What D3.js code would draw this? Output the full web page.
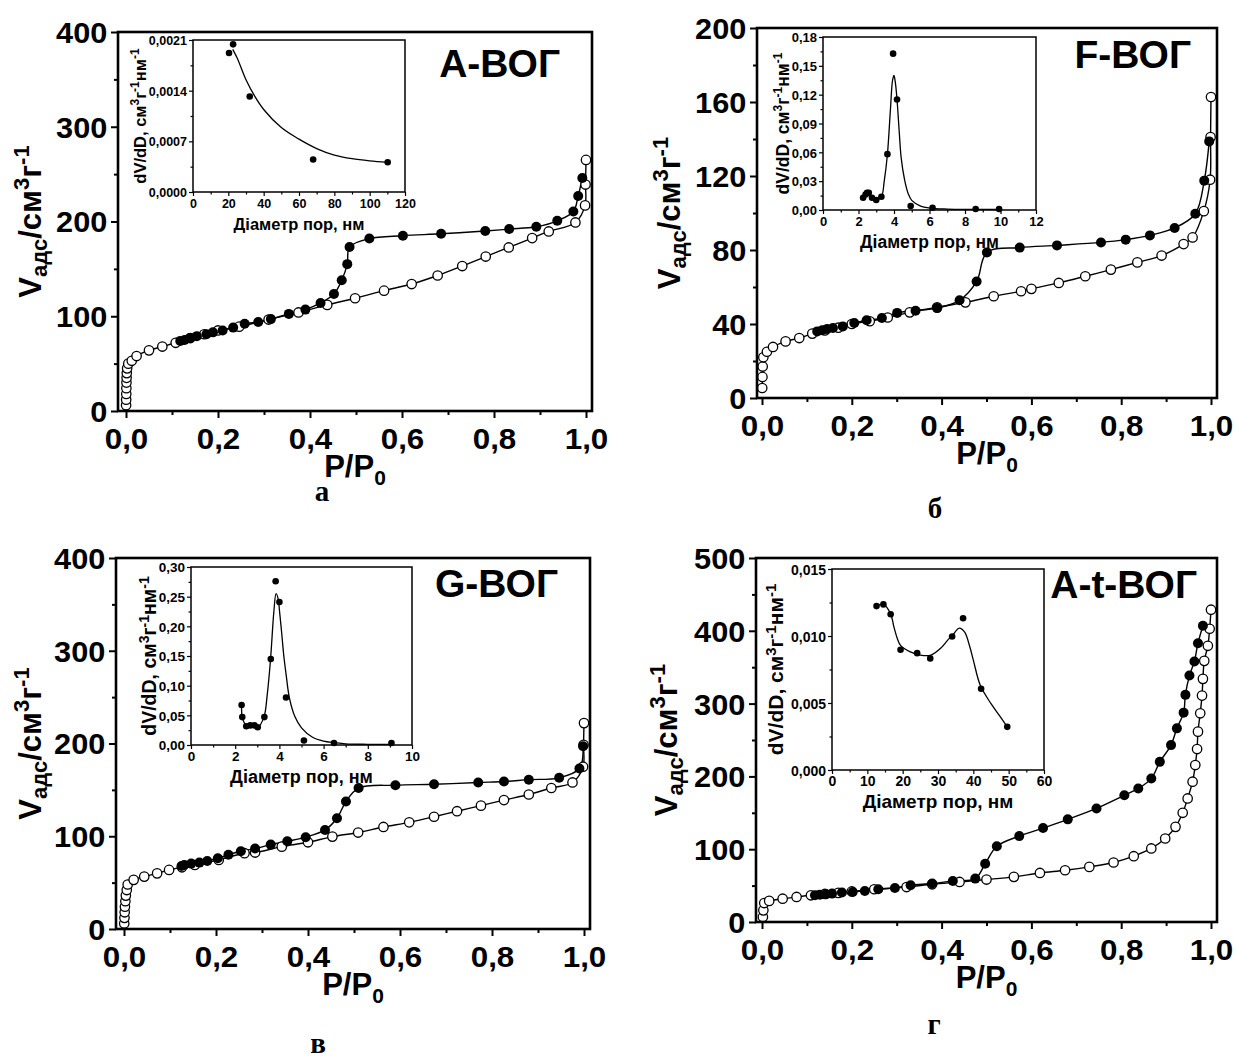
<!DOCTYPE html>
<html>
<head>
<meta charset="utf-8">
<script src="https://cdn.jsdelivr.net/npm/d3@7"></script>
<style>
  body { margin: 0; background: #fff; }
  text { font-family: "Liberation Sans", Arial, sans-serif; font-weight: bold; fill: #000; }
</style>
</head>
<body>
<div id="chart"></div>
<script>
// ---- isotherm data: P/P0 and V (cm3/g) ----
// panel а (A-ВОГ)
const aAdsX = [0.0002,0.0004,0.0006,0.0008,0.001,0.0013,0.0017,0.0025,0.005,0.0125,0.023,0.05,0.079,0.108,0.14,0.17,0.2,0.246,0.31,0.375,0.4375,0.498,0.561,0.621,0.6775,0.731,0.782,0.832,0.883,0.919,0.977,0.998,0.999,1.0];
const aAdsY = [6,12,18,24,30,35,40,45,50,53,58,64,68,72,77,81,85,89,96.5,104,112,119,127,134,143,153,163,172.6,182.5,189.5,199,217,239,265];
const aDesX = [0.992,0.983,0.9725,0.9375,0.892,0.833,0.781,0.685,0.602,0.529,0.486,0.481,0.469,0.452,0.423,0.39,0.354,0.315,0.2875,0.258,0.233,0.21,0.189,0.175,0.154,0.139,0.1275,0.118];
const aDesY = [246,227,210.5,200.7,194.4,192,190,187,185,182,173,155,138,123.5,114,107,102.5,97,94,92,88,85,83,81,79,77,75,74];
// panel б (F-ВОГ)
const bAdsX = [0.0005,0.001,0.0015,0.003,0.011,0.0245,0.0525,0.083,0.112,0.14,0.17,0.2,0.24,0.28,0.329,0.39,0.453,0.516,0.577,0.6,0.661,0.72,0.777,0.836,0.89,0.939,0.959,0.984,0.998,0.999,1.0];
const bAdsY = [5.4,11.4,17,22,25,27.6,30.6,32.4,34.8,36.5,38,40,41.5,43.5,46.3,49,51.7,55,57.7,59,62.2,65.8,69.4,73.3,77,83.2,86.8,101,118,141,162.7];
const bDesX = [0.996,0.985,0.965,0.919,0.864,0.81,0.755,0.657,0.574,0.501,0.478,0.44,0.39,0.342,0.301,0.267,0.233,0.2055,0.18,0.158,0.145,0.134,0.123];
const bDesY = [138.7,117.5,99.6,91.9,87.9,85.6,84.1,82.5,81.3,78.7,63,52.8,48.6,47.2,46,43.2,42,40.5,38.7,37.8,37.3,36.6,36];
// panel в (G-ВОГ)
const cAdsX = [0.0005,0.001,0.0015,0.002,0.003,0.004,0.006,0.008,0.021,0.044,0.072,0.098,0.126,0.154,0.206,0.262,0.285,0.343,0.4,0.453,0.509,0.564,0.62,0.674,0.724,0.776,0.826,0.88,0.929,0.975,0.998,0.999,1.0];
const cAdsY = [6,12,18,24,30,36,42,48,53,56.5,60,63.7,66.5,69,74.5,81.7,82.4,88.8,93.5,99.6,104,110,115,121,127,133,139,145,152,158,175,198.6,222];
const cDesX = [0.998,0.99,0.946,0.88,0.826,0.77,0.674,0.59,0.51,0.4825,0.463,0.437,0.395,0.355,0.319,0.285,0.254,0.227,0.204,0.181,0.164,0.146,0.131,0.125];
const cDesY = [197,173,163,161,159,158,156,155,152,137.4,119.4,106.8,99,94.6,91,86.7,83.8,80,76.3,73.4,71.6,70.5,69,68];
// panel г (A-t-ВОГ)
const dAdsX = [0.002,0.003,0.005,0.016,0.046,0.077,0.109,0.14,0.17,0.2,0.25,0.322,0.379,0.44,0.5,0.561,0.619,0.675,0.729,0.783,0.828,0.867,0.898,0.921,0.937,0.948,0.959,0.965,0.969,0.971,0.976,0.98,0.982,0.985,0.993,0.997,1.0];
const dAdsY = [6.9,16,26,29,32,34.4,36.7,38.5,40,42,45,48,51.8,55,58.3,62,67.4,71.1,75.7,81.7,90.4,101,114.7,130.7,150,169.7,192.7,215.6,237.6,261.5,286.7,311,334,358.7,379.4,402.8,429];
const dDesX = [0.982,0.971,0.963,0.952,0.943,0.939,0.924,0.911,0.886,0.867,0.838,0.807,0.745,0.681,0.626,0.573,0.523,0.497,0.475,0.425,0.379,0.331,0.296,0.259,0.229,0.202,0.178,0.156,0.143,0.129,0.118];
const dDesY = [407,383,357.8,338.5,312,287.6,266,243,220,197,183.5,174,156,141,129,118,104,80,59.6,56.4,52.8,50.5,46.8,45,42.7,41.3,40.4,39,38,37.6,36.7];

// ---- inset data: pore diameter (nm) and dV/dD ----
const aPsdX = [20.4,22.7,32.1,68,110.2];
const aPsdY = [0.00192,0.00204,0.00132,0.00045,0.00041];
const aFitX = [22.5,25,30,35,40,50,60,70,80,90,100,110];
const aFitY = [0.00197,0.00185,0.00155,0.00132,0.00114,0.00089,0.00073,0.0006,0.00051,0.00046,0.00043,0.00041];

const bPsdX = [2.26,2.4,2.48,2.58,2.76,3.0,3.29,3.63,3.95,4.17,4.94,6.17,8.6,9.92];
const bPsdY = [0.0128,0.016,0.018,0.018,0.0128,0.0104,0.0138,0.0581,0.1627,0.1149,0.0042,0.0024,0.001,0.001];
const bFitX = [2.26,2.4,2.55,2.75,3.0,3.29,3.45,3.63,3.8,3.92,4.0,4.08,4.17,4.3,4.4,4.6,4.8,5.0,5.5,6.0,7,8.5,10];
const bFitY = [0.0128,0.017,0.018,0.0128,0.0104,0.0138,0.03,0.058,0.105,0.135,0.14,0.132,0.115,0.08,0.055,0.031,0.017,0.01,0.004,0.002,0.001,0.0007,0.0005];

const cPsdX = [2.29,2.32,2.5,2.68,2.87,3.02,3.32,3.61,3.83,4.0,4.3,5.11,6.47,9.07];
const cPsdY = [0.0675,0.047,0.0316,0.033,0.033,0.03,0.047,0.145,0.276,0.241,0.08,0.0077,0.0033,0.0033];
const cFitX = [2.29,2.32,2.5,2.7,2.9,3.02,3.3,3.45,3.6,3.75,3.85,3.95,4.0,4.1,4.2,4.3,4.45,4.7,5.0,5.5,6.0,6.5,7,8,9];
const cFitY = [0.0675,0.047,0.033,0.033,0.032,0.03,0.047,0.085,0.145,0.225,0.255,0.245,0.228,0.19,0.15,0.12,0.08,0.048,0.029,0.013,0.0066,0.004,0.002,0.0012,0.001];

const dPsdX = [12.6,14.55,16.6,19.4,24.1,27.8,34.0,37.1,42.2,49.6];
const dPsdY = [0.01223,0.01236,0.01162,0.00897,0.00872,0.00833,0.00996,0.01132,0.00606,0.00322];
const dFitX = [12.6,14.5,16.6,17.5,18.5,19.4,22,25,28,31,33,34,36,37.5,39,40,42,45,48,49.6];
const dFitY = [0.01223,0.01236,0.01165,0.0107,0.0098,0.0093,0.00883,0.00858,0.00858,0.00915,0.00977,0.01,0.01058,0.0103,0.0092,0.0082,0.0063,0.00495,0.00384,0.00322];

// tick labels
const mainXTicks = [0, 0.2, 0.4, 0.6, 0.8, 1.0];
const mainXMinor = [0.1, 0.3, 0.5, 0.7, 0.9];

const zip = (xs, ys) => xs.map((v, i) => [v, ys[i]]);
const comma = f => v => d3.format(f)(v).replace(".", ",");

const svg = d3.select("#chart").append("svg")
    .attr("width", 1236)
    .attr("height", 1062);

function panel(c) {
  const g = svg.append("g");
  const x = d3.scaleLinear().domain([0, 1]).range(c.xr);
  const y = d3.scaleLinear().domain([0, c.ymax]).range([c.fb, c.ft]);

  // ticks (outward) on bottom and left
  const xa = g.append("g").attr("transform", `translate(0,${c.fb})`)
    .call(d3.axisBottom(x).tickValues(mainXTicks).tickSize(7).tickSizeOuter(0).tickFormat(comma(".1f")));
  xa.selectAll("text").attr("y", 38).attr("dy", 0).attr("font-size", 29)
    .attr("transform", "scale(1.08,1)");
  g.append("g").attr("transform", `translate(0,${c.fb})`)
    .call(d3.axisBottom(x).tickValues(mainXMinor).tickSize(4).tickSizeOuter(0).tickFormat(""));

  const ya = g.append("g").attr("transform", `translate(${c.fl},0)`)
    .call(d3.axisLeft(y).tickValues(c.yticks).tickSize(7).tickSizeOuter(0).tickPadding(3).tickFormat(d3.format("d")));
  ya.selectAll("text").attr("font-size", 29).attr("dy", "0.36em")
    .attr("transform", "scale(1.06,1)");
  g.append("g").attr("transform", `translate(${c.fl},0)`)
    .call(d3.axisLeft(y).tickValues(c.yminor).tickSize(4).tickSizeOuter(0).tickFormat(""));
  g.selectAll(".domain").remove();
  g.selectAll(".tick line").attr("stroke", "#000").attr("stroke-width", 2);
  g.selectAll(".tick text").attr("fill", "#000");

  // curves
  const line = d3.line().x(d => x(d[0])).y(d => y(d[1])).curve(d3.curveCatmullRom.alpha(0.5));
  const ads = zip(c.ads[0], c.ads[1]);
  const des = zip(c.des[0], c.des[1]);
  g.append("path").datum(ads).attr("d", line).attr("fill", "none").attr("stroke", "#000").attr("stroke-width", 1.4);
  g.append("path").datum(des).attr("d", line).attr("fill", "none").attr("stroke", "#000").attr("stroke-width", 1.4);

  g.append("g").selectAll("circle").data(ads).join("circle")
    .attr("cx", d => x(d[0])).attr("cy", d => y(d[1])).attr("r", 4.7)
    .attr("fill", "#fff").attr("stroke", "#000").attr("stroke-width", 1.3);
  g.append("g").selectAll("circle").data(des).join("circle")
    .attr("cx", d => x(d[0])).attr("cy", d => y(d[1])).attr("r", 5)
    .attr("fill", "#000");

  // frame
  g.append("rect").attr("x", c.fl).attr("y", c.ft)
    .attr("width", c.fr - c.fl).attr("height", c.fb - c.ft)
    .attr("fill", "none").attr("stroke", "#000").attr("stroke-width", 2.6);

  // axis titles
  const yt = g.append("text")
    .attr("transform", `translate(${c.ytx},${(c.ft + c.fb) / 2}) rotate(-90)`)
    .attr("text-anchor", "middle").attr("font-size", 31);
  yt.append("tspan").text("V");
  yt.append("tspan").attr("font-size", 22).attr("dy", 6).text("адс");
  yt.append("tspan").attr("dy", -6).text("/см");
  yt.append("tspan").attr("font-size", 22).attr("dy", -12).text("3");
  yt.append("tspan").attr("dy", 12).text("г");
  yt.append("tspan").attr("font-size", 22).attr("dy", -12).text("-1");

  const xt = g.append("text").attr("x", (c.fl + c.fr) / 2).attr("y", c.fb + 66)
    .attr("text-anchor", "middle").attr("font-size", 31);
  xt.append("tspan").text("P/P");
  xt.append("tspan").attr("font-size", 21).attr("dy", 8).text("0");

  g.append("text").attr("x", c.titleX).attr("y", c.titleY)
    .attr("text-anchor", "end").attr("font-size", 39).text(c.title);

  g.append("text").attr("x", c.letterX).attr("y", c.letterY)
    .attr("text-anchor", "middle").attr("font-size", 29)
    .style("font-family", "'Liberation Serif', 'Times New Roman', serif")
    .text(c.letter);

  inset(c.inset);
}

function inset(s) {
  const g = svg.append("g");
  const x = d3.scaleLinear().domain(s.xdom).range([s.l, s.r]);
  const y = d3.scaleLinear().domain(s.ydom).range([s.b, s.t]);

  g.append("rect").attr("x", s.l).attr("y", s.t)
    .attr("width", s.r - s.l).attr("height", s.b - s.t).attr("fill", "#fff");

  const xa = g.append("g").attr("transform", `translate(0,${s.b})`)
    .call(d3.axisBottom(x).tickValues(s.xticks).tickSize(4).tickSizeOuter(0).tickFormat(d3.format("d")));
  xa.selectAll("text").attr("y", 16).attr("dy", 0).attr("font-size", s.fs);
  g.append("g").attr("transform", `translate(0,${s.b})`)
    .call(d3.axisBottom(x).tickValues(s.xminor).tickSize(2.5).tickSizeOuter(0).tickFormat(""));
  const ya = g.append("g").attr("transform", `translate(${s.l},0)`)
    .call(d3.axisLeft(y).tickValues(s.yticks).tickSize(4).tickSizeOuter(0).tickPadding(2).tickFormat(comma(s.fmt)));
  ya.selectAll("text").attr("font-size", s.fs).attr("dy", "0.36em");
  g.append("g").attr("transform", `translate(${s.l},0)`)
    .call(d3.axisLeft(y).tickValues(s.yminor).tickSize(2.5).tickSizeOuter(0).tickFormat(""));
  g.selectAll(".domain").remove();
  g.selectAll(".tick line").attr("stroke", "#000").attr("stroke-width", 1.2);
  g.selectAll(".tick text").attr("fill", "#000");

  const line = d3.line().x(d => x(d[0])).y(d => y(d[1])).curve(d3.curveCatmullRom.alpha(0.5));
  g.append("path").datum(zip(s.fit[0], s.fit[1])).attr("d", line)
    .attr("fill", "none").attr("stroke", "#000").attr("stroke-width", 1.3);
  g.append("g").selectAll("circle").data(zip(s.pts[0], s.pts[1])).join("circle")
    .attr("cx", d => x(d[0])).attr("cy", d => y(d[1])).attr("r", 3.3).attr("fill", "#000");

  g.append("rect").attr("x", s.l).attr("y", s.t)
    .attr("width", s.r - s.l).attr("height", s.b - s.t)
    .attr("fill", "none").attr("stroke", "#000").attr("stroke-width", 1.5);

  g.append("text").attr("x", (s.l + s.r) / 2).attr("y", s.b + 38)
    .attr("text-anchor", "middle").attr("font-size", s.tfs).text("Діаметр пор, нм");

  const yl = g.append("text")
    .attr("transform", `translate(${s.ylx},${(s.t + s.b) / 2}) rotate(-90)`)
    .attr("text-anchor", "middle").attr("font-size", s.yfs);
  const sup = Math.round(s.yfs * 0.7);
  yl.append("tspan").text("dV/dD, см");
  yl.append("tspan").attr("font-size", sup).attr("dy", -7).text("3");
  yl.append("tspan").attr("dy", 7).text("г");
  yl.append("tspan").attr("font-size", sup).attr("dy", -7).text("-1");
  yl.append("tspan").attr("dy", 7).text("нм");
  yl.append("tspan").attr("font-size", sup).attr("dy", -7).text("-1");
}

panel({
  fl: 118, fr: 592, ft: 32, fb: 411, xr: [126, 586], ymax: 400,
  yticks: [0, 100, 200, 300, 400], yminor: [50, 150, 250, 350],
  ads: [aAdsX, aAdsY], des: [aDesX, aDesY],
  ytx: 41, title: "А-ВОГ", titleX: 560, titleY: 77,
  letter: "а", letterX: 322, letterY: 501,
  inset: { l: 193, r: 405, t: 40, b: 192, xdom: [0, 120], ydom: [0, 0.0021],
    xticks: [0, 20, 40, 60, 80, 100, 120], xminor: [10, 30, 50, 70, 90, 110],
    yticks: [0, 0.0007, 0.0014, 0.0021], yminor: [0.00035, 0.00105, 0.00175],
    fmt: ".4f", fs: 12.5, tfs: 16.5, yfs: 16.5, ylx: 146, pts: [aPsdX, aPsdY], fit: [aFitX, aFitY] }
});

panel({
  fl: 757, fr: 1217, ft: 28, fb: 398, xr: [762, 1211], ymax: 200,
  yticks: [0, 40, 80, 120, 160, 200], yminor: [20, 60, 100, 140, 180],
  ads: [bAdsX, bAdsY], des: [bDesX, bDesY],
  ytx: 680, title: "F-ВОГ", titleX: 1191, titleY: 68,
  letter: "б", letterX: 935, letterY: 518,
  inset: { l: 823, r: 1036, t: 37, b: 210, xdom: [0, 12], ydom: [0, 0.18],
    xticks: [0, 2, 4, 6, 8, 10, 12], xminor: [1, 3, 5, 7, 9, 11],
    yticks: [0, 0.03, 0.06, 0.09, 0.12, 0.15, 0.18], yminor: [0.015, 0.045, 0.075, 0.105, 0.135, 0.165],
    fmt: ".2f", fs: 13, tfs: 17.5, yfs: 17.5, ylx: 789, pts: [bPsdX, bPsdY], fit: [bFitX, bFitY] }
});

panel({
  fl: 116, fr: 590, ft: 558, fb: 929, xr: [124, 584], ymax: 400,
  yticks: [0, 100, 200, 300, 400], yminor: [50, 150, 250, 350],
  ads: [cAdsX, cAdsY], des: [cDesX, cDesY],
  ytx: 41, title: "G-ВОГ", titleX: 558, titleY: 597,
  letter: "в", letterX: 318, letterY: 1053,
  inset: { l: 191, r: 412, t: 567, b: 745, xdom: [0, 10], ydom: [0, 0.30],
    xticks: [0, 2, 4, 6, 8, 10], xminor: [1, 3, 5, 7, 9],
    yticks: [0, 0.05, 0.1, 0.15, 0.2, 0.25, 0.3], yminor: [0.025, 0.075, 0.125, 0.175, 0.225, 0.275],
    fmt: ".2f", fs: 13.5, tfs: 18, yfs: 19.5, ylx: 156, pts: [cPsdX, cPsdY], fit: [cFitX, cFitY] }
});

panel({
  fl: 756, fr: 1217, ft: 558, fb: 922, xr: [762, 1211], ymax: 500,
  yticks: [0, 100, 200, 300, 400, 500], yminor: [50, 150, 250, 350, 450],
  ads: [dAdsX, dAdsY], des: [dDesX, dDesY],
  ytx: 677, title: "А-t-ВОГ", titleX: 1197, titleY: 598,
  letter: "г", letterX: 934, letterY: 1034,
  inset: { l: 832, r: 1044, t: 569, b: 770, xdom: [0, 60], ydom: [0, 0.015],
    xticks: [0, 10, 20, 30, 40, 50, 60], xminor: [5, 15, 25, 35, 45, 55],
    yticks: [0, 0.005, 0.01, 0.015], yminor: [0.0025, 0.0075, 0.0125],
    fmt: ".3f", fs: 14, tfs: 19, yfs: 21, ylx: 783, pts: [dPsdX, dPsdY], fit: [dFitX, dFitY] }
});
</script>
</body>
</html>
